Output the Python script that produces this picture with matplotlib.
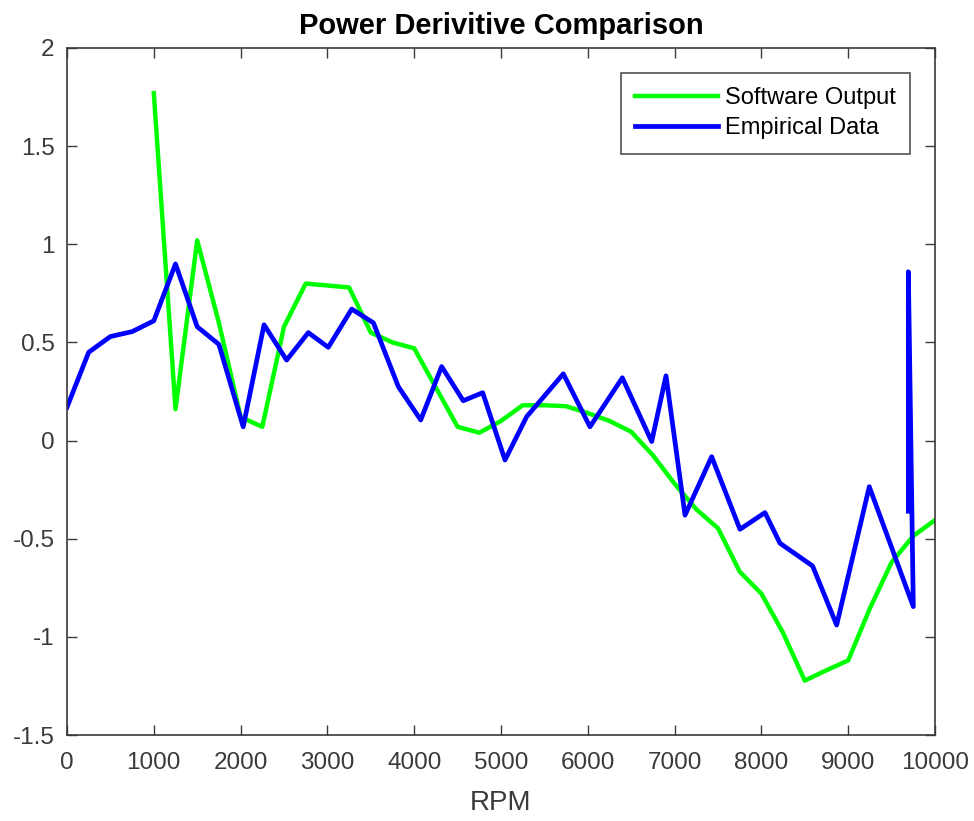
import matplotlib
matplotlib.use("Agg")
import matplotlib.pyplot as plt

# Software Output (green)
sw_rpm = [1000, 1250, 1500, 1750, 2000, 2250, 2500, 2750, 3000, 3250, 3500, 3750,
          4000, 4250, 4500, 4750, 5000, 5250, 5500, 5750, 6000, 6250, 6500, 6750,
          7000, 7250, 7500, 7750, 8000, 8250, 8500, 8750, 9000, 9250, 9500, 9750, 10000]
sw_val = [1.77, 0.16, 1.02, 0.60, 0.12, 0.07, 0.58, 0.80, 0.79, 0.78, 0.55, 0.50,
          0.47, 0.27, 0.07, 0.04, 0.10, 0.18, 0.18, 0.175, 0.14, 0.10, 0.045, -0.075,
          -0.22, -0.35, -0.447, -0.668, -0.78, -0.98, -1.223, -1.17, -1.12, -0.855, -0.62, -0.486, -0.405]

# Empirical Data (blue)
emp_rpm = [0, 250, 500, 750, 1000, 1250, 1500, 1750, 2030, 2270, 2530, 2780, 3010, 3280,
           3530, 3817, 4075, 4316, 4565, 4789, 5046, 5296, 5718, 6025, 6398, 6736, 6901,
           7120, 7427, 7753, 8041, 8214, 8590, 8867, 9243, 9750, 9693, 9693]
emp_val = [0.17, 0.45, 0.53, 0.555, 0.61, 0.90, 0.58, 0.49, 0.07, 0.59, 0.41, 0.55, 0.475, 0.67,
           0.60, 0.275, 0.105, 0.377, 0.203, 0.244, -0.099, 0.122, 0.34, 0.07, 0.32, -0.005, 0.33,
           -0.38, -0.082, -0.452, -0.367, -0.523, -0.639, -0.94, -0.235, -0.846, 0.86, -0.36]

xticks = [0, 1000, 2000, 3000, 4000, 5000, 6000, 7000, 8000, 9000, 10000]
yticks = [-1.5, -1, -0.5, 0, 0.5, 1, 1.5, 2]
ytick_labels = ["-1.5", "-1", "-0.5", "0", "0.5", "1", "1.5", "2"]

plt.rcParams['font.family'] = ['Liberation Sans', 'DejaVu Sans']

fig = plt.figure(figsize=(9.74, 8.21), dpi=100)
ax = fig.add_axes([67/974, 1 - 735/821, (935 - 67)/974, (735 - 48)/821])

ax.plot(sw_rpm, sw_val, color=(0, 1, 0), lw=3.2, label="Software Output")
ax.plot(emp_rpm, emp_val, color=(0, 0, 1), lw=3.4, label="Empirical Data")

ax.set_xlim(0, 10000)
ax.set_ylim(-1.5, 2)
ax.set_xticks(xticks)
ax.set_xticklabels([str(t) for t in xticks])
ax.set_yticks(yticks)
ax.set_yticklabels(ytick_labels)

gc = '#3a3a3a'
ax.tick_params(direction='in', length=7, width=1, colors=gc, labelsize=17.5,
               top=True, right=True)
ax.tick_params(axis='x', pad=12)
ax.tick_params(axis='y', pad=9)
for s in ax.spines.values():
    s.set_color(gc)
    s.set_linewidth(1.2)

ax.set_xlabel("RPM", fontsize=20, color=gc, labelpad=12)
ax.set_title("Power Derivitive Comparison", fontsize=21, fontweight='bold',
             color='black', pad=10)

leg = ax.legend(loc='upper right', fontsize=17, frameon=True, fancybox=False,
                edgecolor='#262626', handlelength=3.5, handletextpad=0.3,
                borderpad=0.6, labelspacing=0.35, borderaxespad=0,
                bbox_to_anchor=(1 - 25/868, 1 - 25/687))
leg.get_frame().set_linewidth(1.2)

fig.savefig("out.png", dpi=100)
